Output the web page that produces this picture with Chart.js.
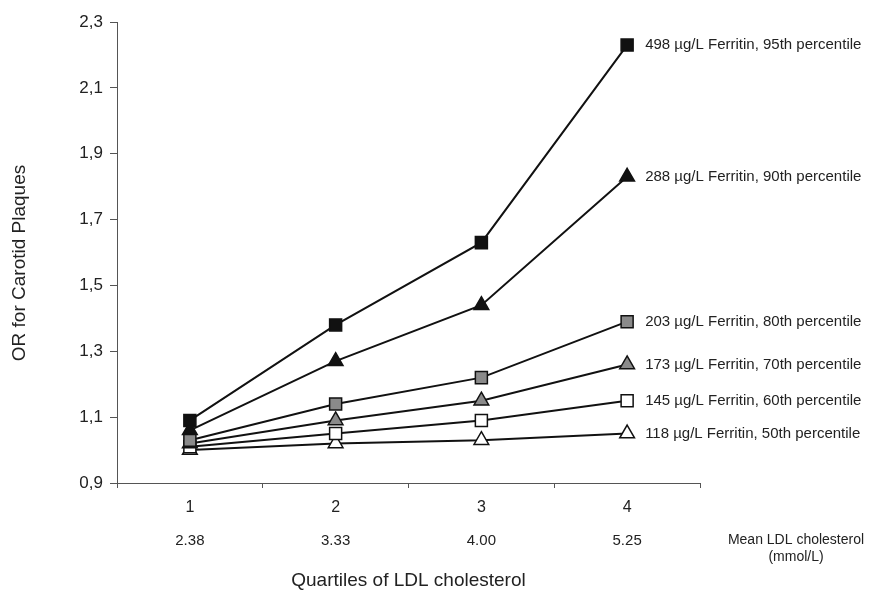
<!DOCTYPE html>
<html>
<head>
<meta charset="utf-8">
<script src="https://cdn.jsdelivr.net/npm/chart.js@4.4.0/dist/chart.umd.min.js"></script>
<style>
  html, body { margin: 0; padding: 0; background: #fff; }
  #wrap { width: 873px; height: 592px; position: relative; }
</style>
</head>
<body>
<div id="wrap"><canvas id="ch-or"></canvas></div>
<script>
// --- data ---
const quartiles = ['1', '2', '3', '4'];
const meanLdl   = ['2.38', '3.33', '4.00', '5.25'];
const yTicks    = [0.9, 1.1, 1.3, 1.5, 1.7, 1.9, 2.1, 2.3];

const seriesNames = [
  '498 µg/L Ferritin, 95th percentile',
  '288 µg/L Ferritin, 90th percentile',
  '203 µg/L Ferritin, 80th percentile',
  '173 µg/L Ferritin, 70th percentile',
  '145 µg/L Ferritin, 60th percentile',
  '118 µg/L Ferritin, 50th percentile'
];
const p95 = [1.09, 1.38, 1.63, 2.23];
const p90 = [1.06, 1.27, 1.44, 1.83];
const p80 = [1.03, 1.14, 1.22, 1.39];
const p70 = [1.02, 1.09, 1.15, 1.26];
const p60 = [1.01, 1.05, 1.09, 1.15];
const p50 = [1.00, 1.02, 1.03, 1.05];

const FONT = 'Liberation Sans, Arial, sans-serif';
const INK = '#222';
const AXIS = '#555';

const mk = (i, data, style, fill) => ({
  label: seriesNames[i],
  data,
  borderColor: '#111',
  borderWidth: 2,
  tension: 0,
  fill: false,
  pointStyle: style,
  pointRadius: 8.5,
  pointHoverRadius: 8.5,
  pointBackgroundColor: fill,
  pointBorderColor: '#111',
  pointBorderWidth: 1.5
});

// series names to the right of the last point, the mean LDL row, y title
const annot = {
  id: 'annot',
  afterDatasetsDraw(chart) {
    const { ctx } = chart;
    ctx.save();
    ctx.fillStyle = INK;
    ctx.font = '15px ' + FONT;
    ctx.textAlign = 'left';
    ctx.textBaseline = 'middle';
    chart.data.datasets.forEach((ds, i) => {
      const pts = chart.getDatasetMeta(i).data;
      const last = pts[pts.length - 1];
      ctx.fillText(ds.label, last.x + 18, last.y);
    });
    const xs = chart.scales.x;
    ctx.textAlign = 'center';
    meanLdl.forEach((t, i) => ctx.fillText(t, xs.getPixelForValue(i), 541));
    ctx.font = '14px ' + FONT;
    ctx.fillText('Mean LDL cholesterol', 796, 540);
    ctx.fillText('(mmol/L)', 796, 557);

    ctx.translate(20, 263);
    ctx.rotate(-Math.PI / 2);
    ctx.font = '19px ' + FONT;
    ctx.fillText('OR for Carotid Plaques', 0, 0);
    ctx.restore();
  }
};

new Chart(document.getElementById('ch-or'), {
  type: 'line',
  data: {
    labels: quartiles,
    datasets: [
      mk(0, p95, 'rect', '#111'),
      mk(1, p90, 'triangle', '#111'),
      mk(2, p80, 'rect', '#8a8a8a'),
      mk(3, p70, 'triangle', '#8a8a8a'),
      mk(4, p60, 'rect', '#fff'),
      mk(5, p50, 'triangle', '#fff')
    ]
  },
  options: {
    responsive: true,
    maintainAspectRatio: false,
    animation: false,
    layout: { padding: { left: 0, right: 173, top: 22, bottom: 0 } },
    plugins: {
      legend: { display: false },
      tooltip: { enabled: false }
    },
    scales: {
      x: {
        type: 'category',
        offset: true,
        afterFit: s => { s.height = 109; },
        border: { display: true, color: AXIS, width: 1 },
        grid: { offset: true, drawOnChartArea: false, tickLength: 5, color: AXIS },
        ticks: { color: INK, padding: 10, font: { family: FONT, size: 16 } },
        title: {
          display: true,
          text: 'Quartiles of LDL cholesterol',
          color: INK,
          padding: { top: 0, bottom: 0 },
          font: { family: FONT, size: 19 }
        }
      },
      y: {
        min: 0.9,
        max: 2.3,
        afterFit: s => { s.width = 117; },
        afterBuildTicks: s => { s.ticks = yTicks.map(v => ({ value: v })); },
        border: { display: true, color: AXIS, width: 1 },
        grid: { drawOnChartArea: false, tickLength: 7, color: AXIS },
        ticks: {
          color: INK,
          padding: 7,
          font: { family: FONT, size: 17 },
          callback: v => Number(v).toFixed(1).replace('.', ',')
        }
      }
    }
  },
  plugins: [annot]
});
</script>
</body>
</html>
